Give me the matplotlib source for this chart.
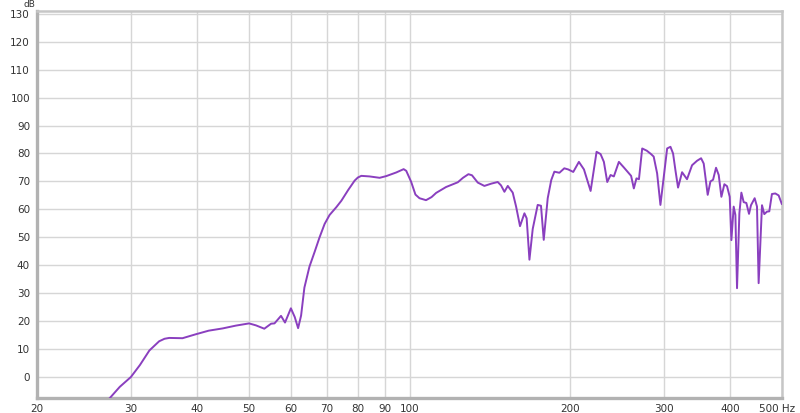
#!/usr/bin/env python3
import matplotlib
matplotlib.use("Agg")
import matplotlib.pyplot as plt
import matplotlib.transforms as mtransforms

# frequency response (Hz, dB)
freq = [27.4, 28.6, 30.0, 31.2, 32.5, 33.9, 34.7, 35.4, 37.5, 39.7, 42.0,
        44.6, 47.2, 50.0, 51.5, 53.4, 55.0, 55.8, 57.4, 58.4, 59.9,
        60.9, 61.8, 62.6, 63.5, 64.9, 66.4, 67.8, 69.3, 70.8, 72.9,
        74.5, 76.7, 78.9, 80.0, 81.2, 84.1, 87.9, 90.4, 94.4, 97.5,
        98.6, 100.7, 102.6, 104.4, 107.4, 110.0, 112.2, 117.1, 123.2, 126.0,
        129.0, 131.0, 134.3, 138.2, 142.3, 146.4, 148.5, 150.7, 152.9, 156.2,
        158.5, 161.2, 164.3, 165.9, 167.9, 170.3, 174.0, 176.5, 178.6, 181.7,
        184.5, 187.0, 191.1, 195.2, 198.5, 202.9, 207.9, 212.5, 218.7, 224.4,
        228.3, 231.6, 235.0, 238.4, 241.8, 247.1, 252.5, 258.0, 260.5, 263.6,
        266.6, 269.5, 273.3, 278.8, 283.9, 287.2, 291.5, 295.7, 300.0, 304.4,
        308.8, 312.3, 315.5, 319.1, 324.7, 331.7, 339.0, 346.4, 352.5, 356.5,
        362.7, 367.0, 371.2, 376.0, 380.4, 384.8, 389.8, 394.3, 398.9, 401.8,
        405.8, 408.8, 411.7, 415.9, 419.5, 423.7, 428.6, 433.6, 437.3, 444.3,
        448.8, 452.0, 458.6, 463.2, 468.6, 473.3, 478.7, 485.7, 492.8, 499.5]

level = [-7.5, -3.5, 0.0, 4.3, 9.5, 12.8, 13.7, 14.0, 13.9, 15.3, 16.6,
         17.4, 18.4, 19.2, 18.5, 17.3, 19.1, 19.2, 21.9, 19.5, 24.6,
         21.5, 17.5, 22.0, 32.0, 39.5, 44.9, 50.0, 54.8, 58.0, 60.8,
         63.1, 66.9, 70.3, 71.4, 72.0, 71.8, 71.3, 71.9, 73.2, 74.4,
         73.8, 69.9, 65.3, 64.0, 63.3, 64.4, 65.9, 68.0, 69.7, 71.3,
         72.6, 72.2, 69.6, 68.4, 69.2, 69.8, 68.6, 66.3, 68.4, 66.0,
         61.0, 54.0, 58.6, 56.8, 42.0, 53.0, 61.6, 61.3, 49.1, 64.0,
         70.5, 73.5, 73.1, 74.7, 74.3, 73.4, 77.0, 74.3, 66.6, 80.6,
         79.8, 77.0, 69.8, 72.3, 71.8, 77.0, 75.0, 72.9, 72.0, 67.5,
         71.1, 70.8, 81.8, 81.0, 79.8, 78.9, 72.9, 61.6, 71.7, 81.8,
         82.4, 80.0, 74.0, 67.8, 73.3, 70.8, 75.8, 77.4, 78.3, 76.4,
         65.2, 70.0, 70.6, 74.9, 72.3, 64.5, 69.0, 68.3, 64.5, 49.0,
         61.0, 58.0, 31.8, 58.6, 66.0, 62.6, 62.3, 58.4, 61.5, 64.0,
         61.0, 33.6, 61.5, 58.3, 59.2, 59.3, 65.5, 65.7, 65.0, 62.0]

xticks = [20, 30, 40, 50, 60, 70, 80, 90, 100, 200, 300, 400, 500]
xlabels = ["20", "30", "40", "50", "60", "70", "80", "90", "100",
           "200", "300", "400", "500 Hz"]
yticks = list(range(0, 140, 10))


def main():
    fig = plt.figure(figsize=(8.0, 4.13), dpi=100)
    ax = fig.add_axes([0.04625, 0.0363, 0.93125, 0.9371])

    ax.semilogx(freq, level, color="#8a3fbf", linewidth=1.4, zorder=3)

    ax.set_xlim(20, 500)
    ax.set_ylim(-7.5, 131)
    style_axes(ax)

    # unit label above the y axis
    fig.text(0.037, 0.989, "dB", ha="center", va="center",
             fontsize=6.5, color="#333333")

    fig.savefig("out.png", dpi=100)


def style_axes(ax):
    ax.set_xticks(xticks)
    ax.set_xticklabels(xlabels)
    ax.xaxis.set_minor_locator(matplotlib.ticker.NullLocator())
    ax.set_yticks(yticks)

    ax.grid(True, which="major", color="#d6d6d6", linewidth=1.0)
    ax.set_axisbelow(True)
    ax.tick_params(length=0, labelsize=7.5, labelcolor="#333333")
    ax.tick_params(axis="x", pad=4)
    ax.tick_params(axis="y", pad=5)

    # "500 Hz" sits a little left of its grid line
    last = ax.get_xticklabels()[-1]
    last.set_transform(last.get_transform() +
                       mtransforms.ScaledTranslation(-5 / 100, 0, ax.figure.dpi_scale_trans))

    # heavier frame on the left and bottom like the source
    ax.spines["left"].set_color("#b2b2b2")
    ax.spines["left"].set_linewidth(2.4)
    ax.spines["bottom"].set_color("#b2b2b2")
    ax.spines["bottom"].set_linewidth(2.4)
    ax.spines["top"].set_color("#c6c6c6")
    ax.spines["top"].set_linewidth(1.8)
    ax.spines["right"].set_color("#c6c6c6")
    ax.spines["right"].set_linewidth(1.8)


if __name__ == "__main__":
    main()
